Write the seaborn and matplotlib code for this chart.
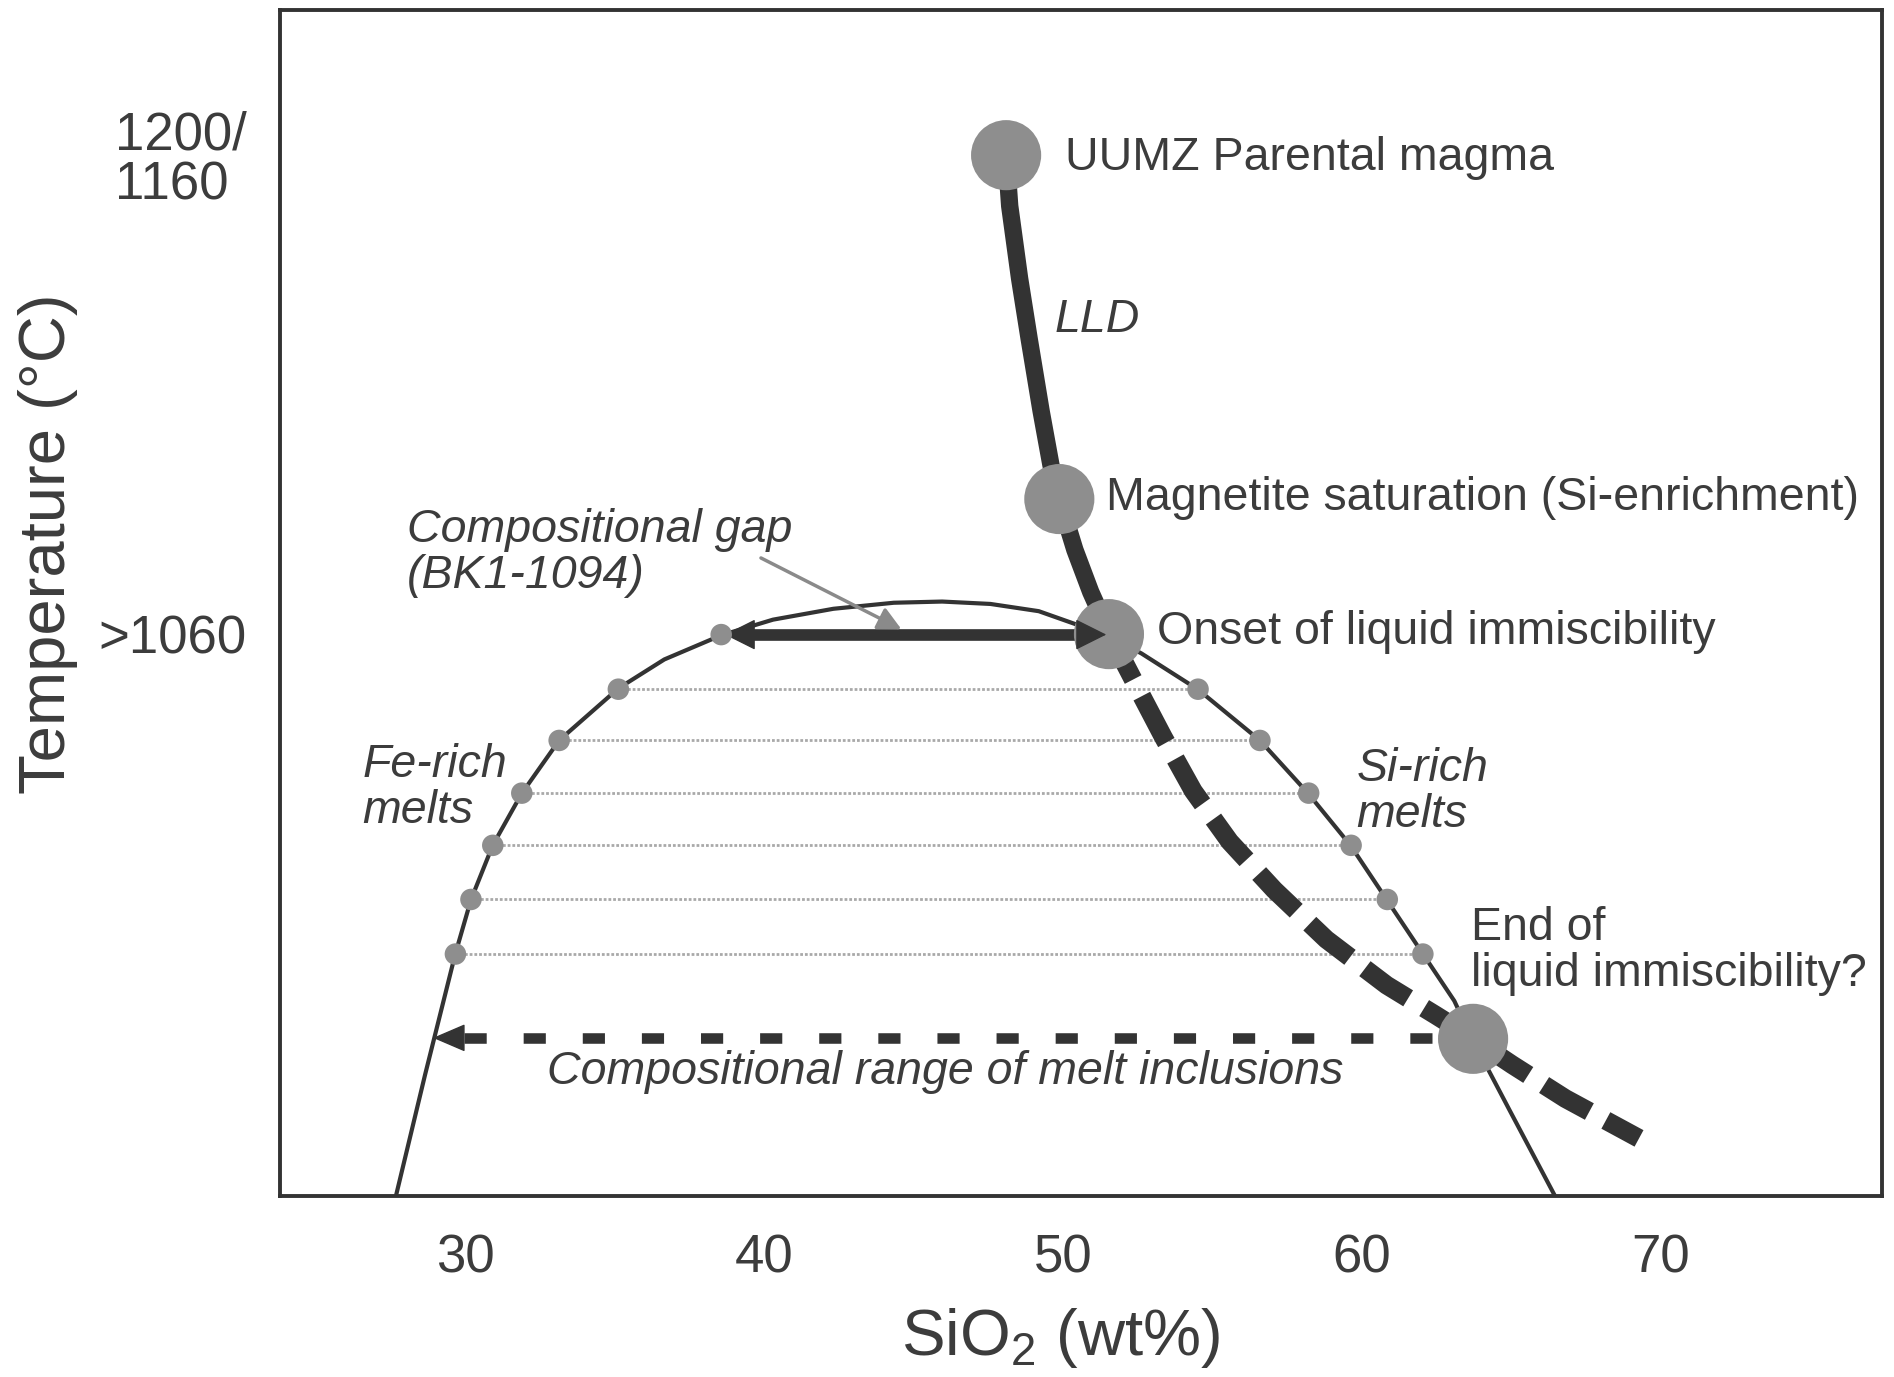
import matplotlib
matplotlib.use("Agg")
import matplotlib.pyplot as plt
import seaborn as sns

# ---------------- data ----------------
# solvus (two-liquid field boundary)
solvus_x = [27.697, 28.667, 29.677, 30.202, 30.929, 31.899, 33.152, 35.131, 36.667, 38.566,
            40.303, 42.323, 44.343, 45.960, 47.576, 49.192, 50.566, 51.535, 52.626, 54.525,
            56.586, 58.202, 59.616, 60.828, 62.040, 63.091, 63.697, 64.949, 66.444]
solvus_y = [942.87, 968.06, 993.25, 1004.58, 1015.92, 1026.75, 1037.83, 1048.67, 1054.71, 1059.75,
            1063.02, 1065.29, 1066.55, 1066.80, 1066.30, 1064.79, 1061.76, 1059.50, 1055.97, 1048.41,
            1037.83, 1026.75, 1015.92, 1004.58, 993.25, 983.43, 975.37, 960.50, 942.87]

# tie lines between conjugate melts
tie_y = [1048.5, 1037.8, 1026.8, 1015.9, 1004.6, 993.2]
tie_left_x = [35.13, 33.15, 31.90, 30.93, 30.20, 29.68]
tie_right_x = [54.52, 56.59, 58.22, 59.64, 60.85, 62.04]

# liquid line of descent (solid part)
lld_x = [48.10, 48.22, 48.55, 48.87, 49.27, 49.60, 49.88, 50.40, 50.93, 51.54]
lld_y = [1160.0, 1149.4, 1134.3, 1121.7, 1106.6, 1095.3, 1088.2, 1077.6, 1068.8, 1060.3]

# liquid line of descent (dashed continuation)
lld_dash_x = [51.54, 52.42, 53.35, 54.36, 55.58, 57.07, 58.81, 60.83, 62.48, 63.70,
              65.03, 66.81, 68.75, 69.27]
lld_dash_y = [1060.25, 1049.67, 1038.59, 1027.25, 1016.67, 1006.60, 996.27, 986.70, 980.40, 975.62,
              970.08, 963.02, 956.47, 954.71]

# key stages (large circles)
stage_names = ["UUMZ Parental magma", "Magnetite saturation (Si-enrichment)",
               "Onset of liquid immiscibility", "End of\nliquid immiscibility?"]
stage_x = [48.10, 49.88, 51.54, 63.72]
stage_y = [1160.0, 1088.2, 1060.0, 975.5]

# compositional gap (BK1-1094): shaft ends and arrow tips
gap_shaft_x = [39.5, 50.55]
gap_tip_x = [38.69, 51.45]
gap_y = 1059.9
gap_dot_x = 38.57
# compositional range of melt inclusions
melt_x = [62.36, 29.92]
melt_tip_x = 28.93
melt_y = 975.7

# pointer from label to the gap
pointer_from = (39.9, 1075.9)
pointer_to = (44.6, 1061.0)

# axis ticks
xticks = [30, 40, 50, 60, 70]
yticks = [1060, 1160]
ytick_labels = [">1060", "1200/\n1160"]

# ---------------- styling ----------------
sns.set_theme(style="white")
plt.rcParams["font.family"] = ["Liberation Sans", "DejaVu Sans"]
plt.rcParams["mathtext.fontset"] = "custom"
plt.rcParams["mathtext.rm"] = "Liberation Sans"
plt.rcParams["mathtext.it"] = "Liberation Sans:italic"

DARK = "#333333"
TXT = "#3c3c3c"
GREY = "#8e8e8e"

fig = plt.figure(figsize=(18.94, 13.77), dpi=100)
ax = fig.add_axes([0.1478, 0.1315, 0.9937 - 0.1478, 0.9927 - 0.1315])
ax.set_xlim(23.81, 77.4)
ax.set_ylim(942.7, 1190.3)

# tie lines
for ty, lx, rx in zip(tie_y, tie_left_x, tie_right_x):
    sns.lineplot(x=[lx, rx], y=[ty, ty], ax=ax, color="#a9a9a9", lw=2.0,
                 linestyle=(0, (1, 0.7)), sort=False, zorder=1)

# solvus
sns.lineplot(x=solvus_x, y=solvus_y, ax=ax, color=DARK, lw=3.0, sort=False, zorder=2)

# LLD
sns.lineplot(x=lld_x, y=lld_y, ax=ax, color=DARK, lw=12.5, sort=False, zorder=3,
             solid_capstyle="butt")
sns.lineplot(x=lld_dash_x, y=lld_dash_y, ax=ax, color=DARK, lw=13.5, sort=False, zorder=3,
             linestyle=(0, (2.8, 1.0)), dash_capstyle="butt")

# melt inclusion range (dashed) + arrow head
sns.lineplot(x=melt_x, y=[melt_y, melt_y], ax=ax, color=DARK, lw=7.6, sort=False, zorder=3,
             linestyle=(0, (2.1, 3.5)), dash_capstyle="butt")
ax.annotate("", xy=(melt_tip_x, melt_y), xytext=(melt_x[1], melt_y),
            arrowprops=dict(arrowstyle="-|>,head_length=2.1,head_width=0.9",
                            color=DARK, lw=1, shrinkA=0, shrinkB=0, mutation_scale=10),
            zorder=3)

# compositional gap double arrow: shaft + heads (right head sits over the circle)
sns.lineplot(x=gap_shaft_x, y=[gap_y, gap_y], ax=ax, color=DARK, lw=8.4, sort=False,
             zorder=4, solid_capstyle="butt")
for tip, base, zo in zip(gap_tip_x, gap_shaft_x, [4, 7]):
    ax.annotate("", xy=(tip, gap_y), xytext=(base, gap_y),
                arrowprops=dict(arrowstyle="-|>,head_length=2.0,head_width=1.0",
                                color=DARK, lw=1, shrinkA=0, shrinkB=0, mutation_scale=10),
                zorder=zo)

# small dots at tie-line ends
dot_x = tie_left_x + tie_right_x + [gap_dot_x]
dot_y = tie_y + tie_y + [gap_y]
sns.scatterplot(x=dot_x, y=dot_y, ax=ax, s=240, color=GREY, edgecolor="none", zorder=5)

# large circles
sns.scatterplot(x=stage_x, y=stage_y, ax=ax, s=2550, color=GREY, edgecolor="none", zorder=6)

# ---------------- annotations ----------------
fs = 33.5
ax.text(50.08, 1159.5, stage_names[0], fontsize=fs, color=TXT, va="center", ha="left")
ax.text(51.45, 1088.5, stage_names[1], fontsize=fs, color=TXT, va="center", ha="left")
ax.text(53.15, 1060.5, stage_names[2], fontsize=fs, color=TXT, va="center", ha="left")
ax.text(63.66, 993.9, stage_names[3], fontsize=fs, color=TXT, va="center", ha="left",
        linespacing=1.05)
ax.text(49.72, 1125.5, "LLD", fontsize=fs, color=TXT, va="center", ha="left", style="italic")
ax.text(28.06, 1077.0, "Compositional gap\n(BK1-1094)", fontsize=fs, color=TXT,
        va="center", ha="left", style="italic", linespacing=1.05)
ax.text(26.57, 1027.9, "Fe-rich\nmelts", fontsize=fs, color=TXT, va="center", ha="left",
        style="italic", linespacing=1.05)
ax.text(59.82, 1027.0, "Si-rich\nmelts", fontsize=fs, color=TXT, va="center", ha="left",
        style="italic", linespacing=1.05)
ax.text(32.75, 968.6, "Compositional range of melt inclusions", fontsize=fs, color=TXT,
        va="center", ha="left", style="italic")

# grey pointer arrow
ax.annotate("", xy=pointer_to, xytext=pointer_from,
            arrowprops=dict(arrowstyle="-|>,head_length=0.7,head_width=0.35",
                            color="#8a8a8a", lw=2.5, shrinkA=0, shrinkB=0, mutation_scale=20),
            zorder=5)

# ---------------- axes ----------------
ax.set_xticks(xticks)
ax.set_xticklabels([str(t) for t in xticks])
ax.set_yticks(yticks)
ax.set_yticklabels(ytick_labels)
for lab in ax.get_yticklabels():
    lab.set_multialignment("left")
    lab.set_linespacing(1.0)
ax.tick_params(axis="both", direction="out", length=15, width=2.6, color=DARK,
               labelsize=38, labelcolor=TXT, pad=9)
ax.tick_params(axis="x", pad=12)
for sp in ax.spines.values():
    sp.set_color(DARK)
    sp.set_linewidth(2.8)

ax.set_xlabel("SiO$_2$ (wt%)", fontsize=47, color=TXT)
ax.set_ylabel("Temperature (°C)", fontsize=47, color=TXT)
ax.xaxis.set_label_coords(0.4875, -0.12)
ax.xaxis.label.set_va("center")
ax.yaxis.set_label_coords(-0.145, 0.55)
ax.yaxis.label.set_va("center")
ax.yaxis.label.set_ha("center")

fig.savefig("out.png", dpi=100, facecolor="white")
